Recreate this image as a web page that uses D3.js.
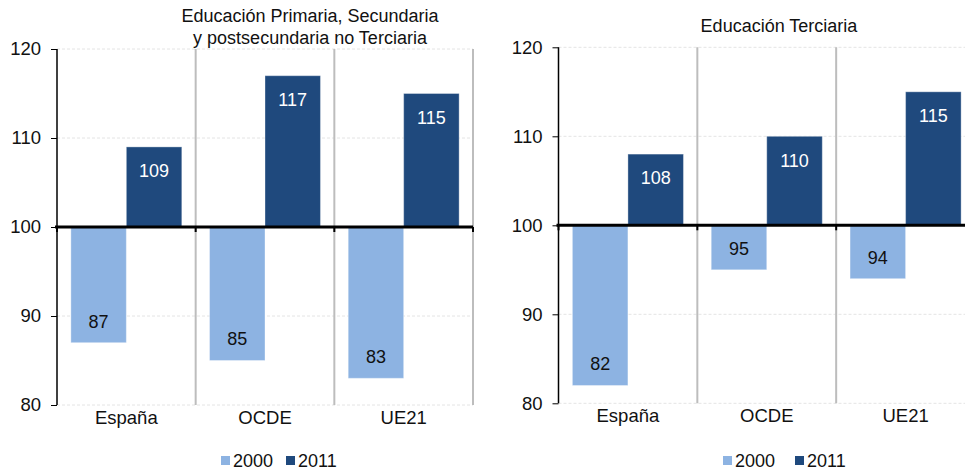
<!DOCTYPE html>
<html>
<head>
<meta charset="utf-8">
<script src="https://cdn.jsdelivr.net/npm/d3@7"></script>
<style>
  html, body { margin: 0; padding: 0; background: #fff; }
  svg { display: block; font-family: "Liberation Sans", Arial, sans-serif; }
</style>
</head>
<body>
<svg id="chart" width="965" height="472"></svg>
<script>
// Índices (base 100) por nivel educativo, 2000 y 2011
const categories = ["España", "OCDE", "UE21"];
const series = ["2000", "2011"];
const primariaTitle = ["Educación Primaria, Secundaria", "y postsecundaria no Terciaria"];
const primaria2000 = [87, 85, 83];
const primaria2011 = [109, 117, 115];
const terciariaTitle = ["Educación Terciaria"];
const terciaria2000 = [82, 95, 94];
const terciaria2011 = [108, 110, 115];
const yTicks = [80, 90, 100, 110, 120];
const baseValue = 100;

const colors = { "2000": "#8db3e2", "2011": "#1f497d" };
const labelColors = { "2000": "#111", "2011": "#fff" };

const svg = d3.select("#chart");

const panels = [
  {
    title: primariaTitle, v2000: primaria2000, v2011: primaria2011,
    x0: 57, x1: 473, top: 49, bottom: 405,
    titleX: 310, titleY: 22, legendX: [221, 286]
  },
  {
    title: terciariaTitle, v2000: terciaria2000, v2011: terciaria2011,
    x0: 558.5, x1: 975, top: 47.3, bottom: 403.3,
    titleX: 779, titleY: 32, legendX: [723, 795]
  }
];

panels.forEach(p => {
  const g = svg.append("g");
  const data = categories.map((c, i) => ({
    cat: c,
    vals: [{ s: "2000", v: p.v2000[i] }, { s: "2011", v: p.v2011[i] }]
  }));

  const x = d3.scaleBand().domain(categories).range([p.x0, p.x1]).paddingInner(0).paddingOuter(0);
  const xs = d3.scaleBand().domain(series).range([0, x.bandwidth()]).paddingInner(0).paddingOuter(0.25);
  const y = d3.scaleLinear().domain([80, 120]).range([p.bottom, p.top]);

  // faint dashed gridlines
  g.append("g").selectAll("line")
    .data(yTicks.filter(t => t !== baseValue))
    .join("line")
    .attr("x1", p.x0).attr("x2", p.x1)
    .attr("y1", d => y(d)).attr("y2", d => y(d))
    .attr("stroke", "#e4e4e4").attr("stroke-width", 1)
    .attr("stroke-dasharray", "3,2");

  // category dividers
  g.append("g").selectAll("line")
    .data(categories)
    .join("line")
    .attr("x1", d => x(d) + x.bandwidth()).attr("x2", d => x(d) + x.bandwidth())
    .attr("y1", p.top).attr("y2", p.bottom)
    .attr("stroke", "#bdbdbd").attr("stroke-width", 2);

  // bars
  const groups = g.append("g").selectAll("g")
    .data(data).join("g")
    .attr("transform", d => `translate(${x(d.cat)},0)`);

  groups.selectAll("rect")
    .data(d => d.vals).join("rect")
    .attr("x", d => xs(d.s))
    .attr("width", xs.bandwidth())
    .attr("y", d => y(Math.max(d.v, baseValue)))
    .attr("height", d => Math.abs(y(d.v) - y(baseValue)))
    .attr("fill", d => colors[d.s])
    .attr("stroke", "rgba(255,255,255,0.35)")
    .attr("stroke-width", 1);

  groups.selectAll("text")
    .data(d => d.vals).join("text")
    .attr("x", d => xs(d.s) + xs.bandwidth() / 2)
    .attr("y", d => d.v >= baseValue ? y(d.v) + 24 : y(d.v) - 21.5)
    .attr("dy", "0.35em")
    .attr("text-anchor", "middle")
    .attr("font-size", 18)
    .attr("fill", d => labelColors[d.s])
    .text(d => d.v);

  // y axis
  const yAxis = g.append("g")
    .attr("transform", `translate(${p.x0},0)`)
    .call(d3.axisLeft(y).tickValues(yTicks).tickSize(6).tickPadding(10).tickFormat(d3.format("d")));
  yAxis.select(".domain").attr("stroke", "#000").attr("stroke-width", 1.5).attr("d", `M0,${p.top}V${p.bottom}`);
  yAxis.selectAll(".tick line").attr("stroke", "#000");
  yAxis.selectAll(".tick text")
    .attr("font-size", 18.5).attr("fill", "#111")
    .attr("font-family", "'Liberation Sans', Arial, sans-serif");

  // base line at 100 with category tick marks
  const y0 = y(baseValue);
  g.append("line")
    .attr("x1", p.x0 - 2).attr("x2", Math.min(p.x1, 965))
    .attr("y1", y0).attr("y2", y0)
    .attr("stroke", "#000").attr("stroke-width", 3);
  g.append("g").selectAll("line")
    .data([p.x0].concat(categories.map(c => x(c) + x.bandwidth())))
    .join("line")
    .attr("x1", d => d).attr("x2", d => d)
    .attr("y1", y0).attr("y2", y0 + 5)
    .attr("stroke", "#000").attr("stroke-width", 2);

  // category labels
  g.append("g").selectAll("text")
    .data(categories).join("text")
    .attr("x", d => x(d) + x.bandwidth() / 2)
    .attr("y", p.bottom + 19)
    .attr("text-anchor", "middle")
    .attr("font-size", 18.5).attr("fill", "#111")
    .text(d => d);

  // title
  g.append("text")
    .attr("x", p.titleX).attr("y", p.titleY)
    .attr("text-anchor", "middle")
    .attr("font-size", 18).attr("fill", "#111")
    .selectAll("tspan").data(p.title).join("tspan")
    .attr("x", p.titleX)
    .attr("dy", (d, i) => i === 0 ? 0 : 21.5)
    .text(d => d);

  // legend
  const lg = g.append("g").selectAll("g")
    .data(series).join("g")
    .attr("transform", (d, i) => `translate(${p.legendX[i]},0)`);
  lg.append("rect")
    .attr("x", 0).attr("y", 456).attr("width", 9).attr("height", 9)
    .attr("fill", d => colors[d]);
  lg.append("text")
    .attr("x", 12).attr("y", 467)
    .attr("font-size", 18).attr("fill", "#111")
    .text(d => d);
});
</script>
</body>
</html>
